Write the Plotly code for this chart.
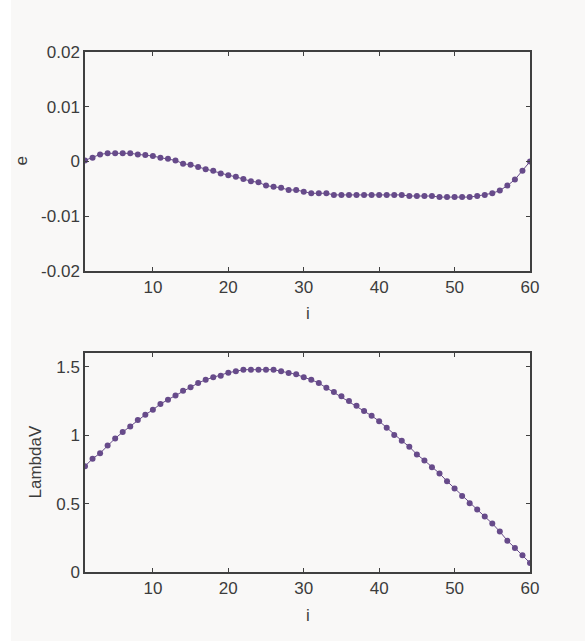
import plotly.graph_objects as go

i_vals = list(range(1, 61))

e_vals = [0.0002, 0.0007, 0.0013, 0.0015, 0.0015, 0.0015, 0.0015, 0.0013, 0.0012, 0.0010,
          0.0007, 0.0005, 0.0002, -0.0004, -0.0006, -0.0010, -0.0014, -0.0017, -0.0022, -0.0025,
          -0.0028, -0.0032, -0.0036, -0.0038, -0.0044, -0.0046, -0.0048, -0.0052, -0.0052, -0.0055,
          -0.0058, -0.0058, -0.0058, -0.0061, -0.0061, -0.0061, -0.0061, -0.0061, -0.0061, -0.0061,
          -0.0061, -0.0061, -0.0061, -0.0063, -0.0063, -0.0063, -0.0063, -0.0065, -0.0065, -0.0065,
          -0.0065, -0.0065, -0.0063, -0.0061, -0.0058, -0.0053, -0.0044, -0.0033, -0.0017, 0.0000]

lambda_vals = [0.773, 0.827, 0.868, 0.924, 0.976, 1.022, 1.063, 1.110, 1.149, 1.185,
               1.227, 1.259, 1.290, 1.324, 1.349, 1.380, 1.405, 1.422, 1.434, 1.456,
               1.466, 1.478, 1.478, 1.478, 1.478, 1.478, 1.466, 1.454, 1.444, 1.422,
               1.405, 1.380, 1.346, 1.315, 1.283, 1.249, 1.215, 1.176, 1.141, 1.102,
               1.054, 1.000, 0.959, 0.915, 0.859, 0.815, 0.766, 0.720, 0.663, 0.610,
               0.556, 0.502, 0.456, 0.405, 0.354, 0.295, 0.229, 0.176, 0.122, 0.066]

x_ticks = [10, 20, 30, 40, 50, 60]
e_ticks = [-0.02, -0.01, 0, 0.01, 0.02]
e_ticktext = ["-0.02", "-0.01", "0", "0.01", "0.02"]
lam_ticks = [0, 0.5, 1, 1.5]
lam_ticktext = ["0", "0.5", "1", "1.5"]

purple = "#674b8a"
axis_col = "#404040"
txt_col = "#3c3c3c"
bg = "#f9f8f7"
font = dict(family="Liberation Sans, Arial, sans-serif", size=17, color=txt_col)

fig = go.Figure()
fig.add_trace(go.Scatter(x=i_vals, y=e_vals, mode="lines+markers",
                         line=dict(color=purple, width=1),
                         marker=dict(color=purple, size=6),
                         xaxis="x", yaxis="y", showlegend=False))
fig.add_trace(go.Scatter(x=i_vals, y=lambda_vals, mode="lines+markers",
                         line=dict(color=purple, width=1),
                         marker=dict(color=purple, size=6),
                         xaxis="x2", yaxis="y2", showlegend=False))

ax_common = dict(showline=True, linecolor=axis_col, linewidth=1.5, mirror="ticks",
                 ticks="inside", ticklen=4, tickcolor=axis_col, tickwidth=1,
                 showgrid=False, zeroline=False, tickfont=font)

fig.update_layout(
    width=585, height=641,
    paper_bgcolor=bg, plot_bgcolor=bg,
    margin=dict(l=85, r=55, t=52, b=69),
    font=font,
    xaxis=dict(domain=[0, 1], range=[1, 60], tickvals=x_ticks, anchor="y", **ax_common),
    yaxis=dict(domain=[0.5788, 1], range=[-0.02, 0.02], tickvals=e_ticks,
               ticktext=e_ticktext, anchor="x", **ax_common),
    xaxis2=dict(domain=[0, 1], range=[1, 60], tickvals=x_ticks, anchor="y2", **ax_common),
    yaxis2=dict(domain=[0, 0.4212], range=[0, 1.6], tickvals=lam_ticks,
                ticktext=lam_ticktext, anchor="x2", **ax_common),
    shapes=[dict(type="rect", xref="paper", yref="paper", xsizemode="pixel",
                 xanchor=0, x0=-85, x1=-74, y0=-0.2, y1=1.2,
                 fillcolor="#ffffff", line=dict(width=0), layer="below")],
    annotations=[
        dict(text="e", xref="paper", yref="paper", x=0, xshift=-63,
             y=0.5788 + 0.4212 / 2, showarrow=False, textangle=-90, font=font,
             xanchor="center", yanchor="middle"),
        dict(text="LambdaV", xref="paper", yref="paper", x=0, xshift=-50,
             y=0.4212 / 2, showarrow=False, textangle=-90, font=font,
             xanchor="center", yanchor="middle"),
        dict(text="i", xref="paper", yref="paper", x=0.5, y=0.5788, yshift=-42,
             showarrow=False, font=font, xanchor="center", yanchor="middle"),
        dict(text="i", xref="paper", yref="paper", x=0.5, y=0, yshift=-43,
             showarrow=False, font=font, xanchor="center", yanchor="middle"),
    ],
)

fig.write_html("out.html", config={"displayModeBar": False},
               post_script="document.body.style.margin='0';")
